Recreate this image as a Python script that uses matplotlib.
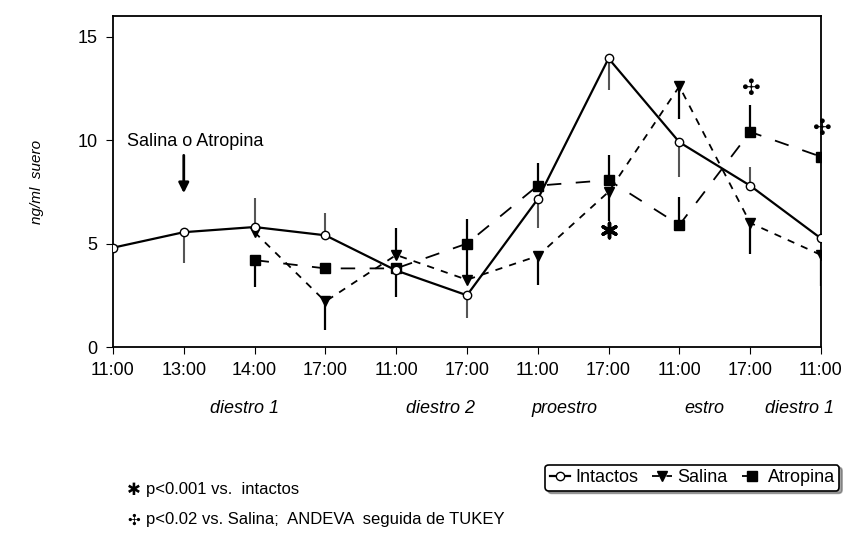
import numpy as np
from matplotlib import pyplot as plt
from matplotlib import transforms

plt.rcParams['font.family'] = ['Liberation Sans Narrow', 'Liberation Sans', 'DejaVu Sans']

horas = ['11:00', '13:00', '14:00', '17:00', '11:00', '17:00', '11:00', '17:00', '11:00', '17:00', '11:00']
fases = ['diestro 1', 'diestro 2', 'proestro', 'estro', 'diestro 1']
fases_x = [1.86, 4.62, 6.38, 8.36, 9.7]

# valores (ng/ml)
intactos = [4.8, 5.55, 5.8, 5.4, 3.7, 2.5, 7.15, 13.95, 9.9, 7.8, 5.25]
intactos_err_lo = [0, 1.5, 0, 0, 0, 1.1, 1.4, 1.55, 1.7, 0, 0]
intactos_err_hi = [0, 0, 1.4, 1.1, 0, 0, 0, 0, 0, 0.9, 0]

salina_x = [2, 3, 4, 5, 6, 7, 8, 9, 10]
salina = [5.55, 2.2, 4.45, 3.25, 4.4, 7.5, 12.6, 6.0, 4.45]
salina_err_lo = [0, 1.4, 0, 0, 1.4, 1.4, 1.6, 1.5, 1.5]
salina_err_hi = [0, 0, 1.3, 1.8, 0, 0, 0, 0, 0]

atropina_x = [2, 3, 4, 5, 6, 7, 8, 9, 10]
atropina = [4.2, 3.8, 3.8, 5.0, 7.8, 8.07, 5.9, 10.4, 9.2]
atropina_err_lo = [1.3, 0, 1.4, 0, 0, 0, 0, 0, 0]
atropina_err_hi = [0, 0, 0, 1.2, 1.1, 1.2, 1.35, 1.3, 0]

asterisco_x = [7]
asterisco_y = [5.65]
cruz_x = [9, 10]
cruz_y = [12.45, 10.55]

fig = plt.figure(figsize=(8.61, 5.36), dpi=100)
ax = fig.add_axes([0.1312, 0.3526, 0.8223, 0.6175])

x = np.arange(len(horas))

ax.errorbar(x, intactos, yerr=[intactos_err_lo, intactos_err_hi], fmt='none',
            ecolor='#555555', elinewidth=1.5, capsize=0, linestyle=':')
ax.errorbar(salina_x, salina, yerr=[salina_err_lo, salina_err_hi], fmt='none',
            ecolor='black', elinewidth=1.6, capsize=0)
ax.errorbar(atropina_x, atropina, yerr=[atropina_err_lo, atropina_err_hi], fmt='none',
            ecolor='black', elinewidth=1.6, capsize=0)

ax.plot(x, intactos, color='black', lw=1.6, marker='o', ms=6, mfc='white',
        mec='black', mew=1.0, label='Intactos', zorder=4)
ax.plot(salina_x, salina, color='black', lw=1.3, ls=(0, (4, 4)), marker='v', ms=7.5,
        label='Salina', zorder=3)
ax.plot(atropina_x, atropina, color='black', lw=1.3, ls=(0, (8, 8)), marker='s', ms=7,
        label='Atropina', zorder=3)

ax.scatter(asterisco_x, asterisco_y, marker=(6, 2, 0), s=110, color='black', linewidths=2.5, zorder=5)
for cx, cy in zip(cruz_x, cruz_y):
    ax.text(cx, cy, '\u2723', family='DejaVu Sans', fontsize=16, fontweight='bold',
            ha='center', va='center')

ax.set_xlim(0, 10)
ax.set_ylim(0, 16)
ax.set_xticks(x)
ax.set_xticklabels(horas, fontsize=13)
ax.set_yticks([0, 5, 10, 15])
ax.set_yticklabels(['0', '5', '10', '15'], fontsize=13)
ax.tick_params(direction='out', length=5, pad=6)
for s in ax.spines.values():
    s.set_linewidth(1.3)

ax.set_ylabel('ng/ml  suero', fontsize=11, style='italic')
ax.yaxis.set_label_coords(-0.097, 0.5)

tr = transforms.blended_transform_factory(ax.transData, ax.transAxes)
for fx, f in zip(fases_x, fases):
    ax.text(fx, -0.185, f, transform=tr, fontsize=13, style='italic', ha='center', va='center')

ax.text(0.2, 9.95, 'Salina o Atropina', fontsize=13, ha='left', va='center')
ax.annotate('', xy=(1, 7.3), xytext=(1, 9.4),
            arrowprops=dict(arrowstyle='-|>', color='black', lw=2, mutation_scale=15))

leg = ax.legend(loc='center', bbox_to_anchor=(0.804, 0.109), bbox_transform=fig.transFigure,
                ncol=3, fontsize=13, frameon=True, fancybox=True, shadow=True,
                handlelength=1.1, handletextpad=0.3, columnspacing=0.8, borderpad=0.25,
                edgecolor='black')
leg.get_frame().set_linewidth(1.2)

fig.text(0.148, 0.086, '\u2731', family='DejaVu Sans', fontsize=12, ha='left', va='center')
fig.text(0.170, 0.086, 'p<0.001 vs.  intactos', fontsize=12, ha='left', va='center')
fig.text(0.148, 0.030, '\u2723', family='DejaVu Sans', fontsize=11, ha='left', va='center')
fig.text(0.170, 0.030, 'p<0.02 vs. Salina;  ANDEVA  seguida de TUKEY', fontsize=12, ha='left', va='center')

fig.savefig('out.png', dpi=100)
